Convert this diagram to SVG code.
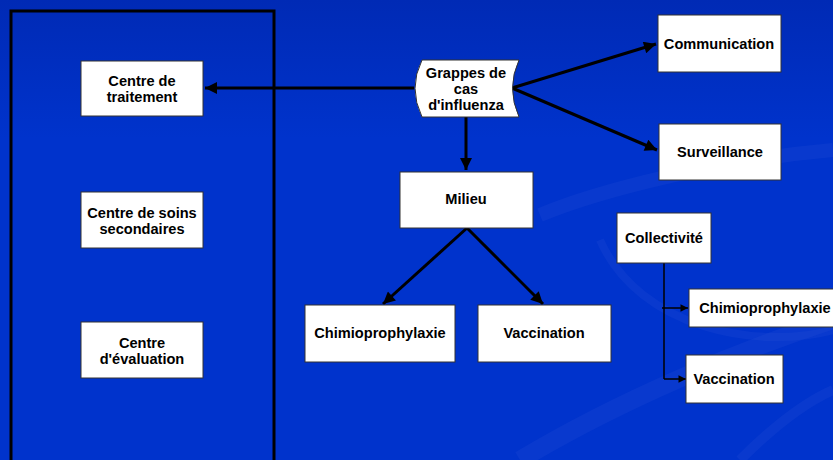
<svg xmlns="http://www.w3.org/2000/svg" width="833" height="460" viewBox="0 0 833 460">
<defs>
<linearGradient id="bg" x1="0" y1="0" x2="0" y2="1">
<stop offset="0" stop-color="#002AB5"/>
<stop offset="0.3" stop-color="#0033CC"/>
<stop offset="1" stop-color="#0033CC"/>
</linearGradient>
<marker id="ah" viewBox="0 0 10 10" refX="10" refY="5" markerWidth="5" markerHeight="4" markerUnits="strokeWidth" orient="auto">
<path d="M0,0 L10,5 L0,10 z" fill="#000"/>
</marker>
<marker id="ahs" viewBox="0 0 10 10" refX="10" refY="5" markerWidth="6" markerHeight="5" markerUnits="strokeWidth" orient="auto">
<path d="M0,0 L10,5 L0,10 z" fill="#000"/>
</marker>
</defs>
<style>
.box{fill:#fff;stroke:#333;stroke-width:1}
.t{font-family:"Liberation Sans",Arial,sans-serif;font-weight:bold;font-size:14.6px;fill:#000;text-anchor:middle;dominant-baseline:central}
.c{fill:none;stroke:#000;stroke-width:3;marker-end:url(#ah)}
.cs{fill:none;stroke:#000;stroke-width:1.5}
.sw{fill:none;stroke:#2A50D5;stroke-opacity:0.22}
</style>
<rect width="833" height="460" fill="url(#bg)"/>
<g id="swooshes">
<path class="sw" stroke-width="14" d="M540,215 C600,190 720,160 833,150"/>
<path class="sw" stroke-width="8" d="M600,240 C640,330 760,350 833,330"/>
<path class="sw" stroke-width="18" d="M520,460 C620,400 740,350 833,320"/>
<path class="sw" stroke-width="10" d="M740,460 C780,420 810,400 833,390"/>
</g>
<rect id="frame" x="11" y="11" width="263" height="460" fill="none" stroke="#000" stroke-width="3"/>
<g id="connectors">
<path class="c" d="M414,88 L205,88"/>
<path class="c" d="M466,117 L466,170"/>
<path class="c" d="M512,88 L656,44"/>
<path class="c" d="M512,88 L657,150"/>
<path class="c" d="M467,228 L383,304"/>
<path class="c" d="M467,228 L543,304"/>
<path class="cs" d="M664,263 L664,379"/>
<path class="cs" marker-end="url(#ahs)" d="M662,308 L688,308"/>
<path class="cs" marker-end="url(#ahs)" d="M664,379 L686,379"/>
</g>
<g id="n-traitement"><rect class="box" x="81" y="61" width="122" height="55"/><text class="t" x="142" y="81">Centre de</text><text class="t" x="142" y="97">traitement</text></g>
<g id="n-soins"><rect class="box" x="81" y="192" width="122" height="56"/><text class="t" x="142" y="213">Centre de soins</text><text class="t" x="142" y="229">secondaires</text></g>
<g id="n-evaluation"><rect class="box" x="81" y="322" width="122" height="56"/><text class="t" x="142" y="343">Centre</text><text class="t" x="142" y="359">d'évaluation</text></g>
<g id="n-grappes"><path class="box" d="M422,60 L519,60 Q506,88 519,117 L422,117 Q408,88 422,60 z"/><text class="t" x="466" y="73">Grappes de</text><text class="t" x="466" y="89">cas</text><text class="t" x="466" y="105">d'influenza</text></g>
<g id="n-communication"><rect class="box" x="658" y="15" width="123" height="57"/><text class="t" x="719" y="44">Communication</text></g>
<g id="n-surveillance"><rect class="box" x="659" y="124" width="122" height="56"/><text class="t" x="720" y="152">Surveillance</text></g>
<g id="n-milieu"><rect class="box" x="400" y="172" width="133" height="56"/><text class="t" x="466" y="199">Milieu</text></g>
<g id="n-chimio1"><rect class="box" x="305" y="305" width="150" height="57"/><text class="t" x="380" y="333">Chimioprophylaxie</text></g>
<g id="n-vacc1"><rect class="box" x="478" y="305" width="133" height="57"/><text class="t" x="544" y="333">Vaccination</text></g>
<g id="n-collectivite"><rect class="box" x="617" y="213" width="94" height="50"/><text class="t" x="664" y="238">Collectivité</text></g>
<g id="n-chimio2"><rect class="box" x="689" y="289" width="150" height="38"/><text class="t" x="765" y="308">Chimioprophylaxie</text></g>
<g id="n-vacc2"><rect class="box" x="686" y="355" width="97" height="48"/><text class="t" x="734" y="379">Vaccination</text></g>
</svg>
